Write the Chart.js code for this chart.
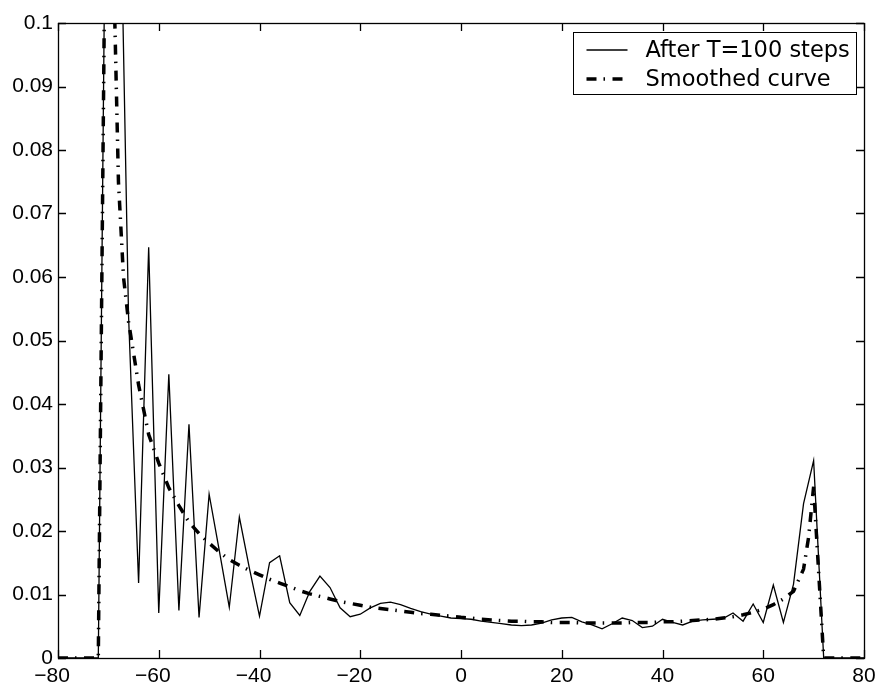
<!DOCTYPE html>
<html>
<head>
<meta charset="utf-8">
<script src="https://cdn.jsdelivr.net/npm/chart.js@4/dist/chart.umd.min.js"></script>
<style>
  html, body { margin: 0; padding: 0; background: #ffffff; }
  #wrap { width: 877px; height: 687px; }
</style>
</head>
<body>
<div id="wrap"><canvas id="c" width="877" height="687"></canvas></div>
<script>
// ---------------- data ----------------
const seriesLabels = ['After T=100 steps', 'Smoothed curve'];

const xPositions = [-80,-78,-76,-74,-72,-70,-68,-66,-64,-62,-60,-58,-56,-54,-52,-50,-48,-46,-44,-42,
  -40,-38,-36,-34,-32,-30,-28,-26,-24,-22,-20,-18,-16,-14,-12,-10,-8,-6,-4,-2,
  0,2,4,6,8,10,12,14,16,18,20,22,24,26,28,30,32,34,36,38,
  40,42,44,46,48,50,52,54,56,58,60,62,64,66,68,70,72,74,76,78,80];

const afterT100 = [0,0,0,0,0,0.172,0.138,0.054,0.0118,0.0647,0.0071,0.0447,0.0075,0.0368,0.0064,0.0258,0.0170,0.0080,0.0222,0.0141,
  0.0066,0.0150,0.0161,0.0087,0.0067,0.0105,0.0129,0.0111,0.0079,0.0065,0.0069,0.0079,0.0086,0.0088,0.0084,0.0078,0.0073,0.0069,0.0066,0.0063,
  0.0062,0.0061,0.0058,0.0056,0.0054,0.0052,0.0051,0.0052,0.0055,0.0060,0.0063,0.0064,0.0057,0.0052,0.0046,0.0054,0.0063,0.0059,0.0048,0.0050,
  0.0061,0.0056,0.0052,0.0058,0.0060,0.0061,0.0062,0.0071,0.0058,0.0085,0.0056,0.0115,0.0056,0.0116,0.0243,0.0311,0,0,0,0,0];

const smoothX = [-80,-78,-76,-74,-72,-70,-69,-68,-67,-66,
  -64,-62,-60,-58,-56,-54,-52,-50,-48,-46,-44,-42,-40,-38,-36,-34,-32,-30,-28,-26,
  -24,-22,-20,-18,-16,-14,-12,-10,-8,-6,-4,-2,0,2,4,6,8,10,12,14,
  16,18,20,22,24,26,28,30,32,34,36,38,40,42,44,46,48,50,52,54,
  56,58,60,62,64,66,68,69,70,72,74,76,78,80];

const smoothY = [0,0,0,0,0,0.170,0.110,0.075,0.060,0.053,
  0.043,0.0352,0.0307,0.0268,0.0240,0.0214,0.0196,0.0181,0.0167,0.0155,0.0146,0.0138,0.0131,0.0124,0.0118,0.0112,0.0106,0.0101,0.0097,0.0093,
  0.0089,0.0086,0.0083,0.0080,0.0078,0.0076,0.0074,0.0072,0.0070,0.0069,0.0067,0.0066,0.0064,0.0063,0.0061,0.0060,0.0059,0.0058,0.0058,0.0057,
  0.0057,0.0056,0.0056,0.0056,0.0055,0.0055,0.0055,0.0055,0.0055,0.0056,0.0056,0.0056,0.0057,0.0057,0.0058,0.0059,0.0060,0.0061,0.0063,0.0065,
  0.0068,0.0072,0.0077,0.0084,0.0093,0.0105,0.0140,0.0190,0.0270,0,0,0,0,0];

const xTickValues = [-80,-60,-40,-20,0,20,40,60,80];
const xTickLabels = ['\u221280','\u221260','\u221240','\u221220','0','20','40','60','80'];
const yTickValues = [0,0.01,0.02,0.03,0.04,0.05,0.06,0.07,0.08,0.09,0.1];
const yTickLabels = ['0','0.01','0.02','0.03','0.04','0.05','0.06','0.07','0.08','0.09','0.1'];

// ---------------- styling ----------------
const FONT_FAMILY = '"Liberation Sans", Arial, Helvetica, sans-serif';
const LEGEND_FONT = '22.5px "DejaVu Sans", sans-serif';
const SMOOTH_DASH = [10, 7, 1.5, 7.5];

const frameAndTicks = {
  id: 'frameAndTicks',
  afterDatasetsDraw(chart) {
    const { ctx, chartArea: a, scales } = chart;
    ctx.save();
    ctx.strokeStyle = '#000';
    ctx.lineWidth = 1.3;
    ctx.beginPath();
    xTickValues.forEach(v => {
      const px = Math.round(scales.x.getPixelForValue(v)) + 0.5;
      ctx.moveTo(px, a.bottom); ctx.lineTo(px, a.bottom - 8);
      ctx.moveTo(px, a.top); ctx.lineTo(px, a.top + 8);
    });
    yTickValues.forEach(v => {
      const py = Math.round(scales.y.getPixelForValue(v)) + 0.5;
      ctx.moveTo(a.left, py); ctx.lineTo(a.left + 8, py);
      ctx.moveTo(a.right, py); ctx.lineTo(a.right - 8, py);
    });
    ctx.stroke();
    ctx.strokeRect(a.left + 0.5, a.top + 0.5, a.right - a.left, a.bottom - a.top);
    ctx.restore();
  }
};

const boxedLegend = {
  id: 'boxedLegend',
  afterDraw(chart) {
    const { ctx, chartArea: a } = chart;
    const w = 283, h = 62;
    const left = Math.round(a.right - 8 - w) + 0.5;
    const top = Math.round(a.top + 9) + 0.5;
    ctx.save();
    ctx.fillStyle = '#fff';
    ctx.fillRect(left, top, w, h);
    ctx.strokeStyle = '#000';
    ctx.lineWidth = 1;
    ctx.strokeRect(left, top, w, h);
    ctx.font = LEGEND_FONT;
    ctx.textBaseline = 'middle';
    ctx.textAlign = 'left';
    ctx.fillStyle = '#000';
    chart.data.datasets.forEach((ds, i) => {
      const cy = top + 17.5 + i * 29;
      ctx.save();
      ctx.lineWidth = ds.borderWidth;
      ctx.setLineDash(ds.borderDash || []);
      ctx.lineCap = 'butt';
      ctx.beginPath();
      ctx.moveTo(left + 13, cy);
      ctx.lineTo(left + 54, cy);
      ctx.stroke();
      ctx.restore();
      ctx.fillText(ds.label, left + 72, cy + 1);
    });
    ctx.restore();
  }
};

new Chart(document.getElementById('c'), {
  type: 'line',
  data: {
    datasets: [
      {
        label: seriesLabels[0],
        data: xPositions.map((x, i) => ({ x: x, y: afterT100[i] })),
        borderColor: '#000',
        borderWidth: 1.3,
        pointRadius: 0,
        tension: 0,
        fill: false,
        order: 2
      },
      {
        label: seriesLabels[1],
        data: smoothX.map((x, i) => ({ x: x, y: smoothY[i] })),
        borderColor: '#000',
        borderWidth: 3.5,
        borderDash: SMOOTH_DASH,
        borderCapStyle: 'butt',
        pointRadius: 0,
        tension: 0,
        fill: false,
        order: 1
      }
    ]
  },
  options: {
    responsive: false,
    animation: false,
    devicePixelRatio: 1,
    layout: { padding: { left: 0, right: 13, top: 23, bottom: 0 } },
    plugins: {
      legend: { display: false },
      tooltip: { enabled: false }
    },
    scales: {
      x: {
        type: 'linear',
        min: -80, max: 80,
        grid: { display: false, drawTicks: false, tickLength: 0 },
        border: { display: false },
        afterBuildTicks: s => { s.ticks = xTickValues.map(v => ({ value: v })); },
        afterFit: s => { s.height = 29; },
        ticks: {
          color: '#000',
          font: { family: FONT_FAMILY, size: 21, lineHeight: '35px' },
          padding: 1,
          maxRotation: 0,
          autoSkip: false,
          callback: (v, i) => xTickLabels[i] + (v < 0 ? '\u2007' : '')
        }
      },
      y: {
        type: 'linear',
        min: 0, max: 0.1,
        grid: { display: false, drawTicks: false, tickLength: 0 },
        border: { display: false },
        afterBuildTicks: s => { s.ticks = yTickValues.map(v => ({ value: v })); },
        afterFit: s => { s.width = 58; },
        ticks: {
          color: '#000',
          font: { family: FONT_FAMILY, size: 21 },
          padding: 5,
          autoSkip: false,
          callback: (v, i) => yTickLabels[i]
        }
      }
    }
  },
  plugins: [frameAndTicks, boxedLegend]
});
</script>
</body>
</html>
